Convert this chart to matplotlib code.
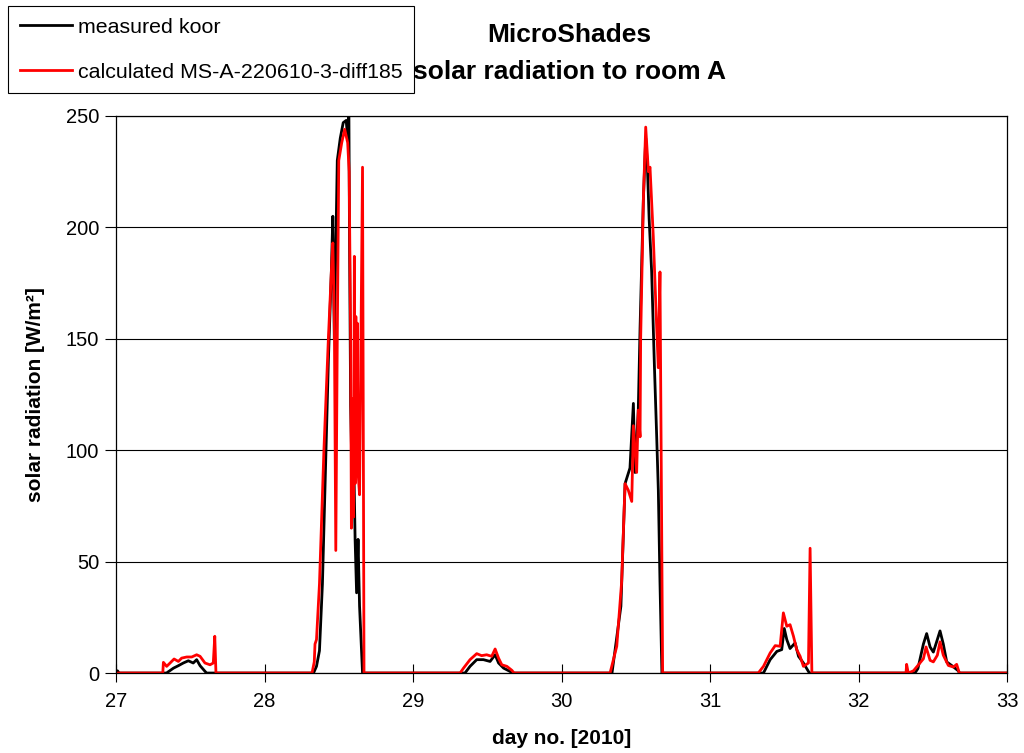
import matplotlib
matplotlib.use("Agg")
import matplotlib.pyplot as plt

plt.rcParams['font.family'] = ['Liberation Sans', 'DejaVu Sans']

# measured radiation (day no., W/m2)
meas_day = [27.0, 27.01, 27.02, 27.34, 27.387, 27.42, 27.453, 27.487, 27.52, 27.543, 27.566, 27.6, 27.61,
            28.33, 28.35, 28.37, 28.39, 28.41, 28.43, 28.45, 28.46, 28.47, 28.49, 28.51, 28.53, 28.55,
            28.56, 28.568, 28.572, 28.58, 28.59, 28.60, 28.61, 28.62, 28.63, 28.64, 28.66,
            29.35, 29.384, 29.429, 29.474, 29.519, 29.553, 29.576, 29.61, 29.654, 29.666,
            30.34, 30.40, 30.428, 30.461, 30.484, 30.495, 30.517, 30.529, 30.551, 30.567, 30.578,
            30.59, 30.607, 30.625, 30.641, 30.652, 30.663, 30.676,
            31.36, 31.405, 31.45, 31.483, 31.5, 31.517, 31.539, 31.573, 31.596, 31.629, 31.663, 31.67,
            32.38, 32.4, 32.437, 32.459, 32.482, 32.504, 32.526, 32.549, 32.571, 32.594, 32.627, 32.672, 32.68,
            33.0]
meas_val = [0, 1, 0, 0, 2.2, 3.3, 4.5, 5.5, 4.5, 6, 3.3, 0.7, 0,
            0, 3, 10, 40, 90, 140, 180, 205, 150, 230, 240, 247, 248,
            240, 255, 200, 120, 85, 100, 60, 36, 60, 30, 0,
            0, 3, 6, 6, 5.2, 8.2, 4.5, 2.2, 0.7, 0,
            0, 30, 85, 92, 121, 90, 118, 155, 212, 240, 228,
            204, 180, 139, 106, 82, 41, 0,
            0, 6, 9.7, 10.5, 20, 15, 11, 13.5, 7.5, 4.5, 0.7, 0,
            0, 2, 13, 17.7, 11.7, 9.4, 14, 18.9, 13, 5, 3.4, 1, 0,
            0]

# calculated radiation (day no., W/m2)
calc_day = [27.0, 27.315, 27.319, 27.341, 27.364, 27.391, 27.42, 27.442, 27.476, 27.51, 27.543, 27.566,
            27.599, 27.633, 27.655, 27.665, 27.673,
            28.32, 28.335, 28.34, 28.35, 28.37, 28.40, 28.43, 28.45, 28.46, 28.47, 28.48, 28.49, 28.50,
            28.52, 28.54, 28.56, 28.57, 28.58, 28.585, 28.59, 28.595, 28.60, 28.605, 28.61, 28.615,
            28.62, 28.625, 28.63, 28.64, 28.66, 28.67,
            29.317, 29.34, 29.384, 29.429, 29.462, 29.496, 29.53, 29.553, 29.576, 29.598, 29.632, 29.666, 29.68,
            30.327, 30.372, 30.405, 30.428, 30.45, 30.473, 30.484, 30.506, 30.517, 30.529, 30.533, 30.551,
            30.567, 30.585, 30.596, 30.618, 30.641, 30.652, 30.663, 30.681,
            31.325, 31.36, 31.405, 31.439, 31.472, 31.494, 31.517, 31.539, 31.562, 31.584, 31.607, 31.629,
            31.663, 31.674, 31.686,
            32.32, 32.324, 32.335, 32.37, 32.4, 32.437, 32.455, 32.482, 32.504, 32.531, 32.549, 32.571,
            32.605, 32.639, 32.661, 32.679, 33.0]
calc_val = [0, 0, 4.8, 3, 4.5, 6.3, 5.2, 6.7, 7.2, 7.2, 8.2, 7.5,
            4.5, 3.7, 4.5, 16.5, 0,
            0, 5, 13, 15, 40, 100, 150, 180, 193, 160, 55, 150, 230,
            238, 244, 238, 225, 150, 65, 90, 123, 70, 187, 85, 160,
            100, 157, 90, 80, 227, 0,
            0, 2.2, 6, 8.7, 7.8, 8.2, 7.5, 10.8, 6.7, 3.7, 3, 1.2, 0,
            0, 12, 41, 85, 82, 77, 111, 90, 118, 106, 150, 212,
            245, 225, 227, 196, 155, 137, 180, 0,
            0, 3, 9, 12.3, 12, 27, 21, 21.7, 16.5, 10.5, 7.5, 3,
            4.5, 56, 0,
            0, 3.9, 0, 1, 3.4, 6.4, 11.7, 5.7, 5, 8, 14, 8,
            3.4, 2.7, 3.9, 0, 0]

x_ticks = [27, 28, 29, 30, 31, 32, 33]
y_ticks = [0, 50, 100, 150, 200, 250]

fig = plt.figure(figsize=(10.24, 7.53), dpi=100)
ax = fig.add_axes([0.1133, 0.1062, 0.8701, 0.7398])

l1, = ax.plot(meas_day, meas_val, color='black', lw=2, label='measured koor')
l2, = ax.plot(calc_day, calc_val, color='red', lw=2, label='calculated MS-A-220610-3-diff185')

ax.set_xlim(27, 33)
ax.set_ylim(0, 250)
ax.set_xticks(x_ticks)
ax.set_yticks(y_ticks)
ax.yaxis.grid(True, color='black', lw=0.8)
ax.set_axisbelow(True)
ax.tick_params(axis='x', direction='inout', length=13, labelsize=14.5, pad=7)
ax.tick_params(axis='y', direction='out', length=8, labelsize=14.5, pad=4)
for s in ax.spines.values():
    s.set_linewidth(0.9)

ax.set_xlabel('day no. [2010]', fontsize=15, fontweight='bold', labelpad=13)
ax.set_ylabel('solar radiation [W/m²]', fontsize=15, fontweight='bold', labelpad=15)

fig.text(0.556, 0.953, 'MicroShades', ha='center', va='center', fontsize=19, fontweight='bold')
fig.text(0.556, 0.904, 'solar radiation to room A', ha='center', va='center', fontsize=19, fontweight='bold')

leg = fig.legend(handles=[l1, l2], loc='upper left', bbox_to_anchor=(0.008, 0.992),
                 fontsize=15.4, frameon=True, fancybox=False, edgecolor='black',
                 framealpha=1, handlelength=2.43, labelspacing=1.21, borderpad=0.55,
                 handletextpad=0.28, borderaxespad=0)
leg.get_frame().set_linewidth(0.8)

fig.savefig('out.png', dpi=100)
